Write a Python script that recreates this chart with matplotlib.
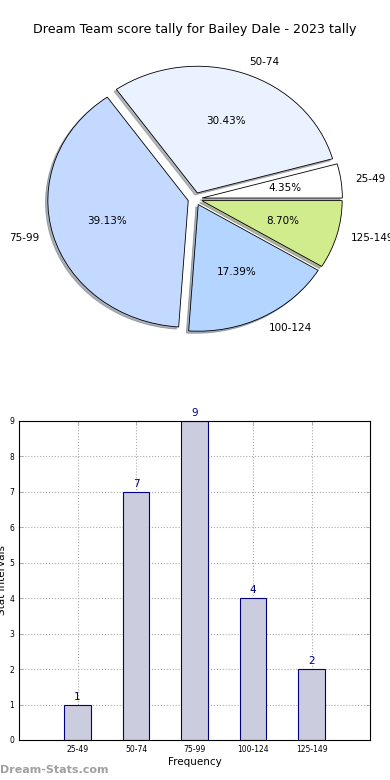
import matplotlib
matplotlib.use("Agg")
import matplotlib.pyplot as plt

categories = ["25-49", "50-74", "75-99", "100-124", "125-149"]
counts = [1, 7, 9, 4, 2]
pie_colors = ["#ffffff", "#eaf1ff", "#c4d9ff", "#b3d5ff", "#d0ec8c"]
title = "Dream Team score tally for Bailey Dale - 2023 tally"

fig = plt.figure(figsize=(3.9, 7.8), dpi=100)

# Pie chart
axp = fig.add_axes([0.05, 0.542, 0.9, 0.406])
wedges, texts, autotexts = axp.pie(
    counts, labels=categories, colors=pie_colors, explode=[0.05] * len(counts),
    autopct="%1.2f%%", shadow={"ox": -0.012, "oy": -0.012, "shade": 0.55},
    startangle=0, labeldistance=1.1,
    wedgeprops=dict(edgecolor="black", linewidth=0.6),
    textprops=dict(fontsize=7.5),
)
axp.set_aspect("auto")
axp.set_xlim(-1.25, 1.25)
axp.set_ylim(-1.25, 1.25)
fig.text(0.5, 0.962, title, ha="center", va="center", fontsize=9.1)

# Bar chart
axb = fig.add_axes([0.049, 0.0513, 0.9, 0.409])
x = list(range(len(categories)))
axb.bar(x, counts, width=0.45, color="#ccccdf", edgecolor="#000080", linewidth=0.8, zorder=2)
for xi, c in zip(x, counts):
    axb.text(xi, c + 0.08, str(c), ha="center", va="bottom", color="#000080", fontsize=7.5)
axb.set_xlim(-1, 5)
axb.set_ylim(0, 9)
axb.set_xticks(x)
axb.set_xticklabels(categories)
axb.set_yticks(range(0, 10))
axb.tick_params(axis="both", labelsize=5.5, direction="in", length=3, top=True, right=True, width=0.5, color="#999999")
axb.grid(True, linestyle=":", color="#aaaaaa", linewidth=0.8, zorder=0)
axb.set_axisbelow(True)
axb.set_xlabel("Frequency", fontsize=7.5, labelpad=2)
axb.set_ylabel("Stat Intervals", fontsize=7.5, labelpad=2)
for s in axb.spines.values():
    s.set_linewidth(0.8)

fig.text(0.0, 0.013, "Dream-Stats.com", ha="left", va="center", fontsize=8, color="#a0a0a0", fontweight="bold")

fig.savefig("out.png", dpi=100)
